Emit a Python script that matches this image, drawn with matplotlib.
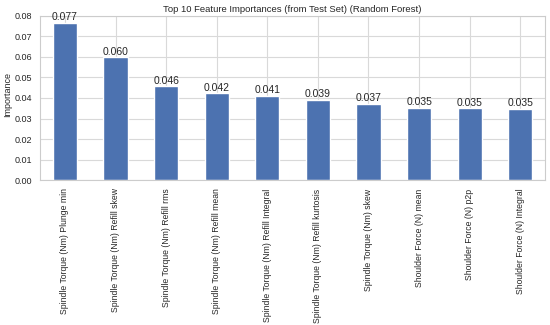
import matplotlib
matplotlib.use("Agg")
import matplotlib.pyplot as plt
import seaborn as sns
import pandas as pd

# Top 10 feature importances
features = [
    "Spindle Torque (Nm) Plunge min",
    "Spindle Torque (Nm) Refill skew",
    "Spindle Torque (Nm) Refill rms",
    "Spindle Torque (Nm) Refill mean",
    "Spindle Torque (Nm) Refill Integral",
    "Spindle Torque (Nm) Refill kurtosis",
    "Spindle Torque (Nm) skew",
    "Shoulder Force (N) mean",
    "Shoulder Force (N) p2p",
    "Shoulder Force (N) Integral",
]
importances = [0.0766, 0.0598, 0.0457, 0.0422, 0.0412, 0.0390, 0.0372, 0.0352, 0.0350, 0.0348]

sns.set_theme(style="whitegrid")
plt.rcParams["font.family"] = ["Liberation Sans", "DejaVu Sans"]

s = pd.Series(importances, index=features)

fig = plt.figure(figsize=(5.5, 3.25), dpi=100)
ax = fig.add_axes([0.073, 0.446, 0.918, 0.505])
s.plot(kind="bar", ax=ax, color="#4C72B0", width=0.48, rot=90)

ax.bar_label(ax.containers[0], fmt="%.3f", fontsize=7.5, padding=0.5)
ax.set_title("Top 10 Feature Importances (from Test Set) (Random Forest)", fontsize=6.8, pad=3)
ax.set_ylabel("Importance", fontsize=6.5)
ax.yaxis.set_label_coords(-0.055, 0.52)
ax.set_ylim(0, 0.08)
ax.set_yticks([0, 0.01, 0.02, 0.03, 0.04, 0.05, 0.06, 0.07, 0.08])
ax.tick_params(axis="both", length=0)
ax.tick_params(axis="y", labelsize=6.5, pad=5.5)
ax.tick_params(axis="x", labelsize=6.2, pad=6)
for sp in ax.spines.values():
    sp.set_color("#cccccc")
    sp.set_linewidth(0.8)
ax.grid(color="#d9d9d9", linewidth=0.8)

plt.savefig("out.png", dpi=100)
